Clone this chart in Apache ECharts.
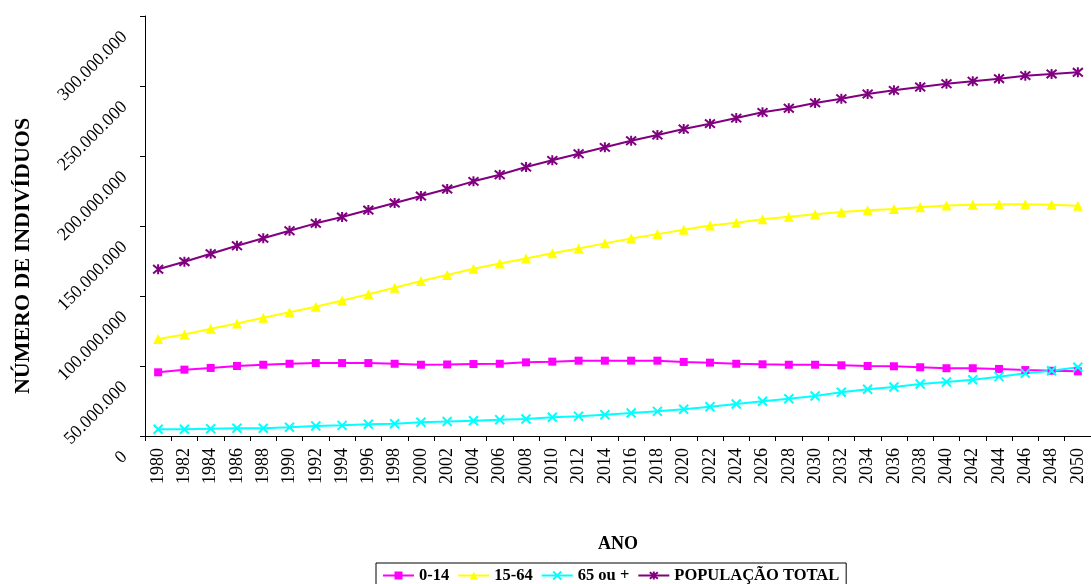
<!DOCTYPE html>
<html>
<head>
<meta charset="utf-8">
<title>População por grupo etário</title>
<script src="https://cdn.jsdelivr.net/npm/echarts@6/dist/echarts.min.js"></script>
<style>
  html, body { margin: 0; padding: 0; background: #ffffff; }
  #chart { width: 1091px; height: 584px; }
</style>
</head>
<body>
<div id="chart"></div>
<script>
// Anos (eixo X)
const anos = ['1980','1982','1984','1986','1988','1990','1992','1994','1996','1998',
  '2000','2002','2004','2006','2008','2010','2012','2014','2016','2018',
  '2020','2022','2024','2026','2028','2030','2032','2034','2036','2038',
  '2040','2042','2044','2046','2048','2050'];

// População em milhões de indivíduos
const grupo0a14 = [45.5, 47.4, 48.6, 50.0, 50.9, 51.6, 52.1, 52.1, 52.1, 51.6,
  50.9, 51.1, 51.4, 51.6, 52.6, 53.1, 53.8, 53.8, 53.8, 53.8,
  52.9, 52.4, 51.6, 51.2, 50.9, 50.9, 50.5, 50.0, 49.8, 49.1,
  48.4, 48.4, 47.9, 47.1, 46.6, 46.2];

const grupo15a64 = [69.3, 72.5, 76.6, 80.4, 84.4, 88.4, 92.3, 96.8, 101.2, 105.9,
  110.7, 115.0, 119.4, 123.2, 126.8, 130.6, 133.9, 137.6, 141.0, 144.2,
  147.4, 150.4, 152.4, 154.9, 156.6, 158.4, 160.0, 161.3, 162.2, 163.4,
  164.6, 165.1, 165.6, 165.6, 165.1, 164.5];

const grupo65mais = [4.8, 4.8, 5.2, 5.5, 5.5, 6.2, 7.1, 7.6, 8.4, 8.8,
  9.8, 10.4, 10.9, 11.6, 12.1, 13.4, 14.1, 15.2, 16.4, 17.6,
  19.1, 20.9, 22.9, 24.8, 26.6, 28.6, 31.2, 33.4, 35.0, 37.1,
  38.6, 40.2, 42.4, 44.8, 46.6, 49.1];

const populacaoTotal = [119.1, 124.5, 130.2, 135.9, 141.2, 146.6, 151.9, 156.4, 161.4, 166.4,
  171.4, 176.4, 181.9, 186.6, 192.1, 196.9, 201.6, 206.2, 210.9, 215.0,
  219.3, 223.1, 227.1, 231.2, 234.1, 237.9, 240.9, 244.3, 246.9, 249.3,
  251.6, 253.4, 255.2, 257.4, 258.6, 259.8];

// Marcas do eixo Y
const yMin = 0;
const yMax = 300000000;
const yPasso = 50000000;

const FONTE = "'Liberation Serif', 'Times New Roman', serif";
const MILHAO = 1000000;
const emIndividuos = arr => arr.map(v => Math.round(v * MILHAO));

// "300000000" -> "300.000.000"
const formataNumero = v => String(v).replace(/\B(?=(\d{3})+(?!\d))/g, '.');

const simboloX = 'path://M0,0 L10,10 M10,0 L0,10';
const simboloAsterisco = 'path://M0,0 L10,10 M10,0 L0,10 M5,-1 L5,11';

function serie(nome, dados, cor, simbolo, tamanho, contorno) {
  return {
    name: nome,
    type: 'line',
    data: emIndividuos(dados),
    symbol: simbolo,
    symbolSize: tamanho,
    showAllSymbol: true,
    animation: false,
    lineStyle: { color: cor, width: 2 },
    itemStyle: { color: cor, borderColor: cor, borderWidth: contorno }
  };
}

const chart = echarts.init(document.getElementById('chart'), null, { renderer: 'canvas' });

chart.setOption({
  backgroundColor: '#ffffff',
  animation: false,
  grid: { left: 145, top: 16, width: 953, height: 420, containLabel: false },
  xAxis: {
    type: 'category',
    data: anos,
    boundaryGap: true,
    name: 'ANO',
    nameLocation: 'middle',
    nameGap: 99,
    nameTextStyle: { fontFamily: FONTE, fontSize: 18, fontWeight: 'bold', color: '#000' },
    axisLine: { show: true, lineStyle: { color: '#000', width: 1 } },
    axisTick: { show: true, alignWithLabel: false, interval: 0, length: 5, lineStyle: { color: '#000' } },
    axisLabel: {
      interval: 0,
      rotate: 90,
      margin: 12,
      fontFamily: FONTE,
      fontSize: 18,
      color: '#000'
    },
    splitLine: { show: false }
  },
  yAxis: {
    type: 'value',
    min: yMin,
    max: yMax,
    interval: yPasso,
    axisLine: { show: true, lineStyle: { color: '#000', width: 1 } },
    axisTick: { show: true, length: 5, lineStyle: { color: '#000' } },
    axisLabel: {
      rotate: 45,
      margin: 2,
      padding: [0, 26, 0, 0],
      fontFamily: FONTE,
      fontSize: 18,
      color: '#000',
      formatter: formataNumero
    },
    splitLine: { show: false }
  },
  legend: {
    left: 376,
    top: 563,
    orient: 'horizontal',
    padding: [4, 7, 4, 6],
    itemGap: 8,
    itemWidth: 31,
    itemHeight: 10,
    borderColor: '#000',
    borderWidth: 1,
    backgroundColor: '#ffffff',
    textStyle: { fontFamily: FONTE, fontSize: 16.5, fontWeight: 'bold', color: '#000' },
    data: ['0-14', '15-64', '65 ou +', 'POPULAÇÃO TOTAL']
  },
  graphic: [{
    type: 'text',
    x: 23,
    y: 256,
    rotation: Math.PI / 2,
    style: {
      text: 'NÚMERO DE INDIVÍDUOS',
      fontFamily: FONTE,
      fontSize: 22,
      fontWeight: 'bold',
      fill: '#000',
      align: 'center',
      verticalAlign: 'middle'
    }
  }],
  series: [
    serie('0-14', grupo0a14, '#ff00ff', 'rect', 8, 0),
    serie('15-64', grupo15a64, '#ffff00', 'triangle', 10, 0),
    serie('65 ou +', grupo65mais, '#00ffff', simboloX, 9, 2),
    serie('POPULAÇÃO TOTAL', populacaoTotal, '#800080', simboloAsterisco, 10, 2)
  ]
});
</script>
</body>
</html>
